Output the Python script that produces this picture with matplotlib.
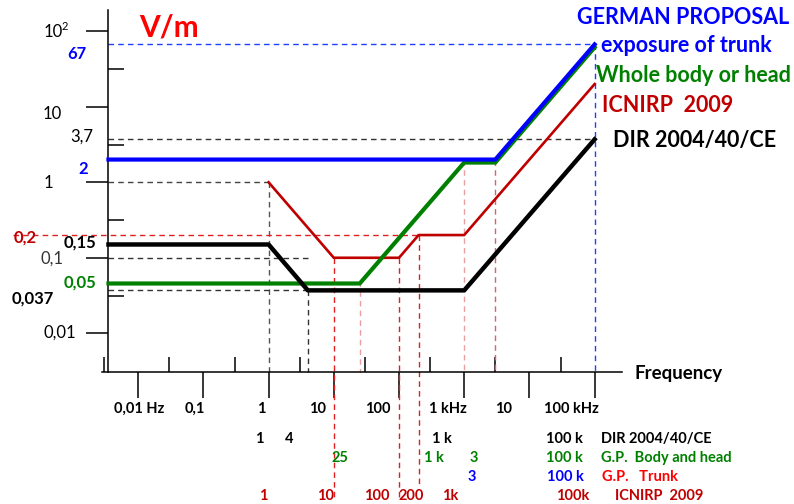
import matplotlib.pyplot as plt
from matplotlib.transforms import ScaledTranslation

plt.rcParams['font.family'] = ['Lato', 'DejaVu Sans']

# Electric field limits (V/m) against frequency (Hz)
F0 = 0.0035  # curves start on the vertical axis

dir_f = [F0, 1, 4, 1e3, 1e5]
dir_e = [0.15, 0.15, 0.037, 0.037, 3.7]

icnirp_f = [1, 10, 100, 200, 1e3, 1e5]
icnirp_e = [1, 0.1, 0.1, 0.2, 0.2, 20]

gp_body_f = [F0, 25, 1e3, 3e3, 1e5]
gp_body_e = [0.05, 0.05, 2, 2, 67]

gp_trunk_f = [F0, 3e3, 1e5]
gp_trunk_e = [2, 2, 67]

x_decades = [1e-2, 1e-1, 1, 10, 100, 1e3, 1e4, 1e5]
x_decade_labels = ['0,01 Hz', '0,1', '1', '10', '100', '1 kHz', '10', '100 kHz']

BLUE = '#0000FF'
GREEN = '#008000'
DRED = '#C00000'
RED = '#FF0000'

W, H = 794, 504
fig = plt.figure(figsize=(W / 100, H / 100), dpi=100)
ax = fig.add_axes([102 / W, 1 - 372 / H, 520 / W, 362 / H])
ax.set_xscale('log')
ax.set_yscale('log')
ax.set_xlim(10 ** -2.555, 10 ** 5.42)
ax.set_ylim(10 ** -2.513, 10 ** 2.282)
ybot = ax.get_ylim()[0]

for s in ['top', 'right']:
    ax.spines[s].set_visible(False)
ax.spines['left'].set_position(('data', F0))
ax.spines['left'].set_linewidth(1.1)
ax.spines['bottom'].set_linewidth(1.1)

ax.set_xticks(x_decades)
ax.set_xticks([3 * 10.0 ** k for k in range(-3, 5)], minor=True)
ax.set_yticks([10.0 ** k for k in range(-2, 3)])
ax.set_yticks([10 ** (k + 0.5) for k in range(-2, 2)], minor=True)
ax.tick_params(which='both', labelbottom=False, labelleft=False, width=1.1)
ax.tick_params(axis='x', which='major', direction='out', length=19)
ax.tick_params(axis='x', which='minor', direction='in', length=11)
ax.tick_params(axis='y', which='major', direction='out', length=16)
ax.tick_params(axis='y', which='minor', direction='in', length=11.5)
for i in (1, 3):
    ax.yaxis.get_major_ticks()[i].tick1line.set_color('#777777')

# curves
ax.plot(icnirp_f, icnirp_e, color=DRED, lw=1.9, zorder=3)
shift = ax.transData + ScaledTranslation(0, -3 / 100, fig.dpi_scale_trans)
ax.plot(gp_body_f, gp_body_e, color=GREEN, lw=3, zorder=4, transform=shift)
ax.plot(dir_f, dir_e, color='black', lw=3.2, zorder=5)
ax.plot(gp_trunk_f, gp_trunk_e, color=BLUE, lw=3, zorder=6)


def guide(xs, ys, color):
    ax.plot(xs, ys, color=color, lw=1, ls=(0, (4, 3)), clip_on=False, zorder=2)


guide([F0, 1e5], [67, 67], '#2040FF')
guide([1e5, 1e5], [67, ybot], '#2040FF')
guide([F0, 1e5], [3.7, 3.7], '#333333')
guide([F0, 1], [1, 1], '#444444')
guide([1, 1], [1, ybot], '#555555')
guide([10 ** -3.92, 200], [0.2, 0.2], '#E02020')
guide([F0, 4], [0.1, 0.1], '#333333')
guide([F0, 4], [0.037, 0.037], '#333333')
guide([4, 4], [0.037, ybot], '#333333')
guide([10, 10], [0.1, 10 ** -4.21], '#E02020')
guide([100, 100], [0.1, 10 ** -4.21], '#E02020')
guide([200, 200], [0.2, 10 ** -4.03], '#E02020')
guide([25, 25], [0.05, ybot], '#E8A0A0')
guide([1e3, 1e3], [2, ybot], '#E8A0A0')
guide([3e3, 3e3], [2, ybot], '#E06060')


def ftext(x, y, s, **kw):
    kw.setdefault('ha', 'center')
    kw.setdefault('va', 'center')
    fig.text(x / W, 1 - y / H, s, **kw)


# y value labels
ftext(53, 32, '10', fontsize=12)
ftext(65, 27, '2', fontsize=8)
for s, x, y, c, wgt in [('67', 76.5, 54, BLUE, 'bold'),
                        ('10', 52.5, 114, 'black', 'normal'),
                        ('3,7', 82, 137, 'black', 'normal'),
                        ('2', 83, 169, BLUE, 'bold'),
                        ('1', 48, 183, 'black', 'normal'),
                        ('0,2', 25, 238, DRED, 'bold'),
                        ('0,15', 80, 243, 'black', 'bold'),
                        ('0,1', 52, 259, '#333333', 'normal'),
                        ('0,05', 80, 283, GREEN, 'bold'),
                        ('0,037', 32.5, 299, 'black', 'bold'),
                        ('0,01', 59.5, 333, 'black', 'normal')]:
    ftext(x, y, s, color=c, fontweight=wgt, fontsize=12)

ftext(169, 28, 'V/m', color=RED, fontweight='bold', fontsize=21.5)
ftext(634, 373, 'Frequency', ha='left', fontweight='bold', fontsize=13.5)

# frequency labels
for s, x in zip(x_decade_labels, [139, 195, 261, 318, 378, 448, 504, 571]):
    ftext(x, 409, s, fontweight='bold', fontsize=10.5)

rows = [
    (439, 'black', ['1', '4', '1 k', '100 k'], [259, 289, 442, 564]),
    (458, GREEN, ['25', '1 k', '3', '100 k'], [340, 434, 474, 564]),
    (477, BLUE, ['3', '100 k'], [472, 565]),
    (496, DRED, ['1', '10', '100', '200', '1k', '100k'],
     [263, 326, 377, 411, 450, 573]),
]
for y, c, labels, xs in rows:
    for s, x in zip(labels, xs):
        ftext(x, y, s, color=c, fontweight='bold', fontsize=10.5)

ftext(601, 439, 'DIR 2004/40/CE', ha='left', color='black', fontweight='bold', fontsize=10.5)
ftext(601, 458, 'G.P.  Body and head', ha='left', color=GREEN, fontweight='bold', fontsize=10.5)
ftext(602, 477, 'G.P.   Trunk', ha='left', color=RED, fontweight='bold', fontsize=10.5)
ftext(615, 496, 'ICNIRP  2009', ha='left', color=DRED, fontweight='bold', fontsize=10.5)

# legend on the right
ftext(683, 17, 'GERMAN PROPOSAL', color=BLUE, fontweight='bold', fontsize=15.5)
ftext(686, 45, 'exposure of trunk', color=BLUE, fontweight='bold', fontsize=15.5)
ftext(693, 75, 'Whole body or head', color=GREEN, fontweight='bold', fontsize=15.5)
ftext(602, 105, 'ICNIRP  2009', ha='left', color=DRED, fontweight='bold', fontsize=15.5)
ftext(613, 140, 'DIR 2004/40/CE', ha='left', color='black', fontweight='bold', fontsize=15.5)

fig.savefig('out.png', dpi=100)
